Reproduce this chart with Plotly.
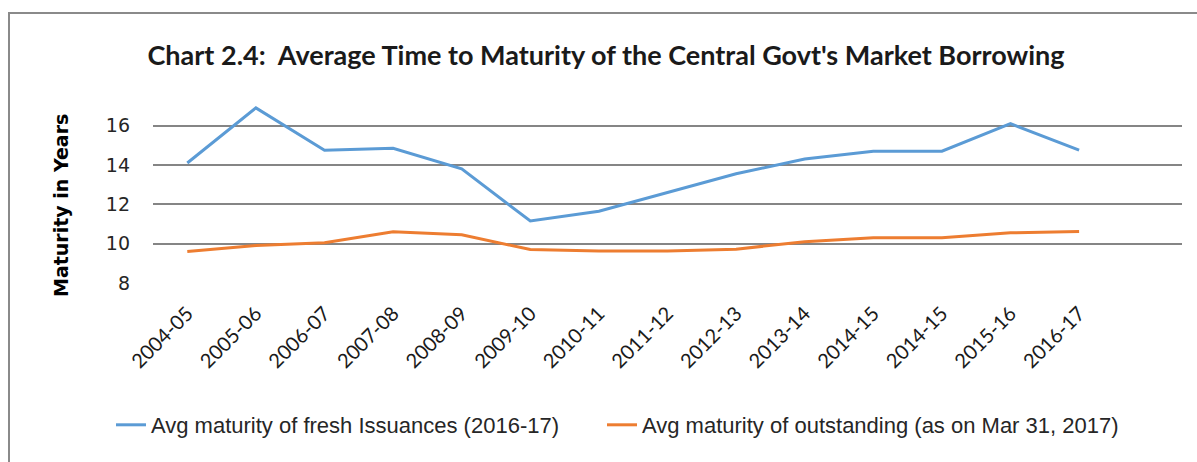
import plotly.graph_objects as go

# Fiscal years on the category axis (2014-15 appears twice in the source table)
years = ["2004-05", "2005-06", "2006-07", "2007-08", "2008-09", "2009-10",
         "2010-11", "2011-12", "2012-13", "2013-14", "2014-15", "2014-15",
         "2015-16", "2016-17"]

# Average maturity (years)
fresh_issuances = [14.1, 16.9, 14.75, 14.85, 13.8, 11.15, 11.65, 12.6,
                   13.55, 14.3, 14.7, 14.7, 16.1, 14.75]
outstanding = [9.6, 9.9, 10.05, 10.6, 10.45, 9.7, 9.63, 9.63,
               9.72, 10.1, 10.3, 10.3, 10.55, 10.62]

y_ticks = [8, 10, 12, 14, 16]

W, H = 1197, 462
ML, MR, MT, MB = 153, 15, 102, 179
pw, ph = W - ML - MR, H - MT - MB

x_pos = list(range(len(years)))

fig = go.Figure()
fig.add_trace(go.Scatter(
    x=x_pos, y=fresh_issuances, mode="lines",
    name="Avg maturity of fresh Issuances (2016-17)",
    line=dict(color="#5B9BD5", width=3),
    legend="legend",
))
fig.add_trace(go.Scatter(
    x=x_pos, y=outstanding, mode="lines",
    name="Avg maturity of outstanding (as on Mar 31, 2017)",
    line=dict(color="#ED7D31", width=3),
    legend="legend2",
))

# outer chart frame
fig.add_shape(
    type="rect", xref="paper", yref="paper",
    x0=(9 - ML) / pw, x1=(W + 20 - ML) / pw,
    y0=(H - MB - (H + 20)) / ph, y1=(H - MB - 13) / ph,
    line=dict(color="#8a8a8a", width=2), fillcolor="rgba(0,0,0,0)",
    layer="below",
)

# value-axis title
fig.add_annotation(
    text="Maturity in Years", textangle=-90, showarrow=False,
    xref="paper", yref="paper",
    x=(61 - ML) / pw, y=(H - MB - 206) / ph,
    xanchor="center", yanchor="middle",
    font=dict(family="DejaVu Sans", size=19, color="#000000", weight="bold"),
)

legend_font = dict(family="Liberation Sans", size=22, color="#262626")

fig.update_layout(
    width=W, height=H,
    margin=dict(l=ML, r=MR, t=MT, b=MB),
    paper_bgcolor="white", plot_bgcolor="white",
    title=dict(
        text="Chart 2.4:  Average Time to Maturity of the Central Govt's Market Borrowing",
        x=606 / W, xanchor="center", xref="container",
        y=1 - 56 / H, yanchor="middle", yref="container",
        font=dict(family="Lato", size=27, color="#1a1a1a", weight="bold"),
    ),
    xaxis=dict(
        range=[-0.5, len(years) + 0.5],
        tickmode="array", tickvals=x_pos, ticktext=years,
        tickangle=-45, showgrid=False, zeroline=False, showline=False,
        ticks="", ticklabelstandoff=14,
        tickfont=dict(family="Lato", size=20, color="#1a1a1a"),
    ),
    yaxis=dict(
        range=[8, 17.2], tickvals=y_ticks,
        showgrid=True, gridcolor="#858585", gridwidth=2,
        zeroline=False, showline=False, ticks="", ticklabelstandoff=22,
        tickfont=dict(family="DejaVu Sans", size=19, color="#262626"),
    ),
    legend=dict(
        orientation="h", xref="container", yref="container",
        x=111 / W, xanchor="left", y=1 - 425 / H, yanchor="middle",
        font=legend_font, bgcolor="rgba(0,0,0,0)",
    ),
    legend2=dict(
        orientation="h", xref="container", yref="container",
        x=602 / W, xanchor="left", y=1 - 425 / H, yanchor="middle",
        font=legend_font, bgcolor="rgba(0,0,0,0)",
    ),
    showlegend=True,
)

fig.write_html("out.html")
